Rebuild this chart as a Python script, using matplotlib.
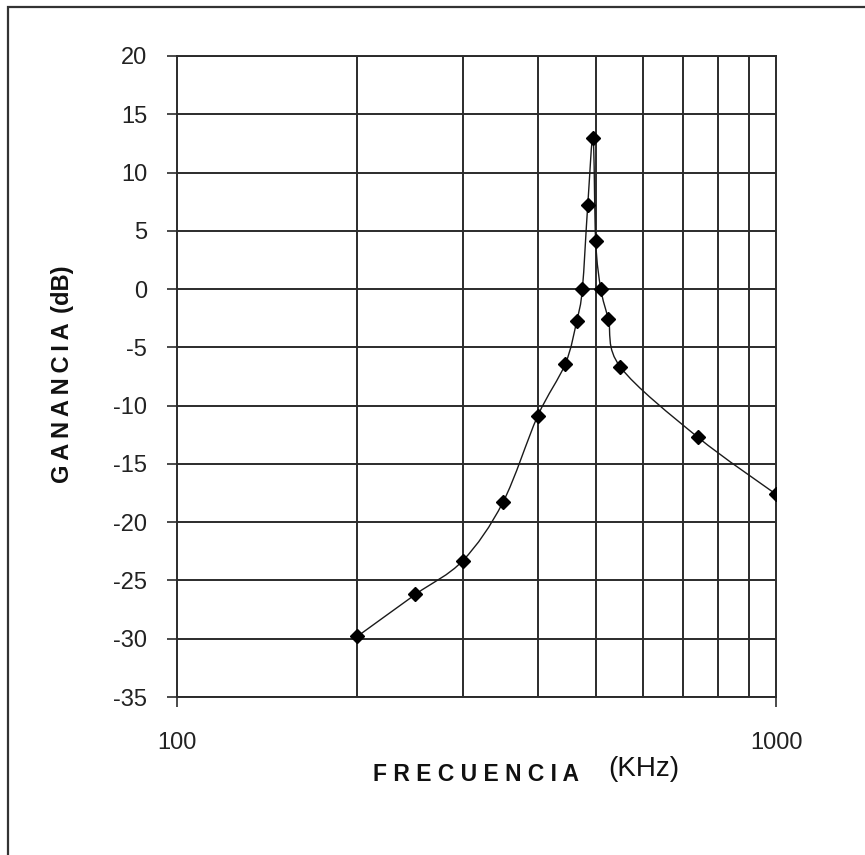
import numpy as np
import matplotlib
matplotlib.use('Agg')
import matplotlib.pyplot as plt
from matplotlib.path import Path
from matplotlib.patches import PathPatch, Rectangle
from matplotlib.ticker import FixedLocator, NullFormatter

freq_khz = [200, 250, 300, 350, 400, 445, 465, 475, 485, 495, 500, 510, 525, 550, 740, 1000]
gain_db = [-29.8, -26.2, -23.3, -18.3, -10.9, -6.4, -2.7, 0.0, 7.2, 13.0, 4.1, 0.0, -2.6, -6.7, -12.7, -17.6]
y_ticks = list(range(-35, 21, 5))
x_major = [100, 1000]
x_minor = [200, 300, 400, 500, 600, 700, 800, 900]

W, H = 865, 855
plt.rcParams['font.family'] = ['Liberation Sans', 'DejaVu Sans']


def smooth_path(x, y):
    # excel-like smoothed line: cubic bezier through points, built in log-x space
    lx = np.log10(np.asarray(x, dtype=float))
    y = np.asarray(y, dtype=float)
    n = len(lx)
    verts = [(x[0], y[0])]
    codes = [Path.MOVETO]
    for i in range(n - 1):
        i0 = max(i - 1, 0)
        i3 = min(i + 2, n - 1)
        c1x = lx[i] + (lx[i + 1] - lx[i0]) / 6
        c1y = y[i] + (y[i + 1] - y[i0]) / 6
        c2x = lx[i + 1] - (lx[i3] - lx[i]) / 6
        c2y = y[i + 1] - (y[i3] - y[i]) / 6
        verts += [(10 ** c1x, c1y), (10 ** c2x, c2y), (x[i + 1], y[i + 1])]
        codes += [Path.CURVE4] * 3
    return Path(verts, codes)


fig = plt.figure(figsize=(W / 100, H / 100), dpi=100)
ax = fig.add_axes([177 / W, 1 - 697 / H, (776 - 177) / W, (697 - 56) / H])
ax.set_xscale('log')
ax.set_xlim(100, 1000)
ax.set_ylim(-35, 20)

grid_c = '#2b2b2b'
ax.xaxis.set_major_locator(FixedLocator(x_major))
ax.xaxis.set_minor_locator(FixedLocator(x_minor))
ax.xaxis.set_minor_formatter(NullFormatter())
ax.set_xticklabels([str(v) for v in x_major])
ax.set_yticks(y_ticks)
ax.set_yticklabels([str(v) for v in y_ticks])
ax.grid(True, which='minor', axis='x', color=grid_c, linewidth=1.4)
ax.grid(True, which='major', axis='y', color=grid_c, linewidth=1.4)
ax.tick_params(axis='x', which='minor', length=0)
ax.tick_params(axis='both', which='major', direction='out', length=7.5, width=1.2,
               color=grid_c, labelsize=17, labelcolor='#222222')
ax.tick_params(axis='y', pad=14)
ax.tick_params(axis='x', pad=18)
for s in ax.spines.values():
    s.set_color(grid_c)
    s.set_linewidth(1.4)
ax.set_axisbelow(True)

ax.add_patch(PathPatch(smooth_path(freq_khz, gain_db), facecolor='none',
                       edgecolor='#1a1a1a', linewidth=1.0, zorder=3))
ax.plot(freq_khz, gain_db, linestyle='none', marker='D', markersize=7.5,
        color='black', zorder=4)

# axis titles
fig.text(62 / W, 1 - 374 / H, '\u2009'.join('GANANCIA') + '\u2009\u2009(dB)',
         rotation=90, ha='center', va='center', fontsize=17, fontweight='bold',
         color='#111111')
fig.text(373 / W, 1 - 774 / H, ' '.join('FRECUENCIA'), ha='left', va='center',
         fontsize=16.5, fontweight='bold', color='#111111')
fig.text(644 / W, 1 - 769 / H, '(KHz)', ha='center', va='center',
         fontsize=20, color='#111111')

# outer chart border (right/bottom edges fall outside the picture)
fig.patches.append(Rectangle((8 / W, -0.05), 1.1, 1 - 7 / H + 0.05,
                             transform=fig.transFigure, fill=False,
                             edgecolor='#333333', linewidth=1.6))

fig.savefig('out.png', dpi=100)
